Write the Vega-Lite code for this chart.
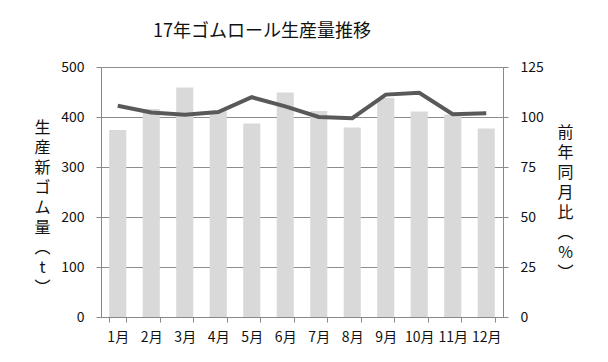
{
  "$schema": "https://vega.github.io/schema/vega-lite/v6.json",
  "width": 402,
  "height": 250,
  "autosize": {"type": "none"},
  "padding": {"left": 101, "top": 67, "right": 105, "bottom": 45},
  "background": "white",
  "title": {
    "text": "17年ゴムロール生産量推移",
    "font": "Noto Sans CJK JP",
    "fontSize": 18,
    "fontWeight": "normal",
    "color": "#111111",
    "anchor": "middle",
    "dx": -40,
    "offset": 19
  },
  "data": {
    "values": [
      {"month": "1月", "prod": 374, "yoy": 105.6},
      {"month": "2月", "prod": 416, "yoy": 102.3},
      {"month": "3月", "prod": 459, "yoy": 101.1},
      {"month": "4月", "prod": 412, "yoy": 102.5},
      {"month": "5月", "prod": 387, "yoy": 109.9},
      {"month": "6月", "prod": 449, "yoy": 105.3},
      {"month": "7月", "prod": 412, "yoy": 100.0},
      {"month": "8月", "prod": 379, "yoy": 99.4},
      {"month": "9月", "prod": 438, "yoy": 111.2},
      {"month": "10月", "prod": 411, "yoy": 112.1},
      {"month": "11月", "prod": 405, "yoy": 101.4},
      {"month": "12月", "prod": 377, "yoy": 101.9}
    ]
  },
  "encoding": {
    "x": {
      "field": "month",
      "type": "nominal",
      "sort": null,
      "scale": {"paddingInner": 0.49, "paddingOuter": 0.245},
      "axis": {
        "title": null,
        "labelAngle": 0,
        "tickBand": "extent",
        "tickSize": 5,
        "labelPadding": 8,
        "domainColor": "#888888",
        "tickColor": "#888888",
        "labelFont": "Noto Sans CJK JP",
        "labelFontSize": 14,
        "labelColor": "#111111"
      }
    }
  },
  "layer": [
    {
      "mark": {"type": "bar", "color": "#d9d9d9"},
      "encoding": {
        "y": {
          "field": "prod",
          "type": "quantitative",
          "scale": {"domain": [0, 500], "nice": false},
          "axis": {
            "values": [0, 100, 200, 300, 400, 500],
            "grid": true,
            "gridColor": "#8c8c8c",
            "gridWidth": 1.2,
            "domainColor": "#888888",
            "tickColor": "#888888",
            "tickSize": 5,
            "labelPadding": 12,
            "labelFont": "Noto Sans CJK JP",
            "labelFontSize": 14,
            "labelColor": "#111111",
            "title": ["生", "産", "新", "ゴ", "ム", "量", "︵", "t", "︶"],
            "titleAngle": 0,
            "titleAlign": "center",
            "titleBaseline": "top",
            "titleX": -59,
            "titleY": 52,
            "titleFont": "Noto Sans CJK JP",
            "titleFontSize": 16,
            "titleFontWeight": "normal",
            "titleLineHeight": 20,
            "titleColor": "#111111"
          }
        }
      }
    },
    {
      "mark": {"type": "line", "color": "#595959", "strokeWidth": 4},
      "encoding": {
        "y": {
          "field": "yoy",
          "type": "quantitative",
          "scale": {"domain": [0, 125], "nice": false},
          "axis": {
            "orient": "right",
            "values": [0, 25, 50, 75, 100, 125],
            "grid": false,
            "domainColor": "#888888",
            "tickColor": "#888888",
            "tickSize": 5,
            "labelPadding": 12,
            "labelFont": "Noto Sans CJK JP",
            "labelFontSize": 14,
            "labelColor": "#111111",
            "title": ["前", "年", "同", "月", "比", "︵", "%", "︶"],
            "titleAngle": 0,
            "titleAlign": "center",
            "titleBaseline": "top",
            "titleX": 62,
            "titleY": 57,
            "titleFont": "Noto Sans CJK JP",
            "titleFontSize": 16,
            "titleFontWeight": "normal",
            "titleLineHeight": 20,
            "titleColor": "#111111"
          }
        }
      }
    }
  ],
  "resolve": {"scale": {"y": "independent"}},
  "config": {"view": {"stroke": null}}
}
